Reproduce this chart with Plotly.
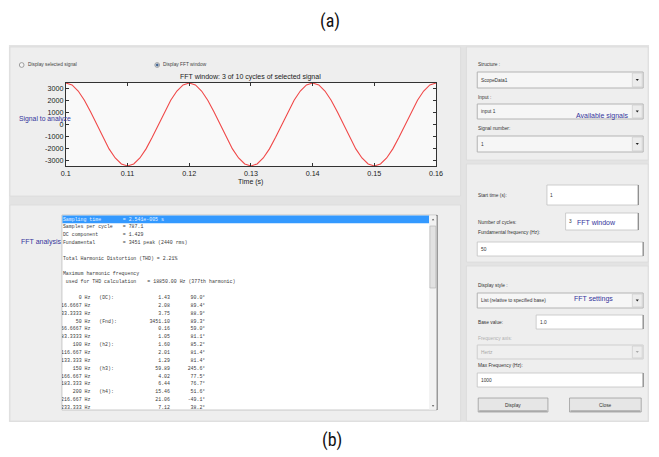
import plotly.graph_objects as go

W, H = 659, 457
SANS = "Liberation Sans, Arial, sans-serif"
MONO = "Liberation Mono, DejaVu Sans Mono, monospace"
BLUE = "#35359c"

# ---- signal in the FFT window (3 cycles, 0.1 s to 0.16 s, 1 ms steps) ----
time_s = [0.100, 0.101, 0.102, 0.103, 0.104, 0.105, 0.106, 0.107, 0.108, 0.109,
          0.110, 0.111, 0.112, 0.113, 0.114, 0.115, 0.116, 0.117, 0.118, 0.119,
          0.120, 0.121, 0.122, 0.123, 0.124, 0.125, 0.126, 0.127, 0.128, 0.129,
          0.130, 0.131, 0.132, 0.133, 0.134, 0.135, 0.136, 0.137, 0.138, 0.139,
          0.140, 0.141, 0.142, 0.143, 0.144, 0.145, 0.146, 0.147, 0.148, 0.149,
          0.150, 0.151, 0.152, 0.153, 0.154, 0.155, 0.156, 0.157, 0.158, 0.159,
          0.160]
signal = [3451, 3290, 2790, 2020, 1060, 0, -1070, -2030, -2790, -3280,
          -3451, -3280, -2790, -2030, -1070, 0, 1060, 2020, 2790, 3290,
          3451, 3290, 2790, 2020, 1060, 0, -1070, -2030, -2790, -3280,
          -3451, -3280, -2790, -2030, -1070, 0, 1060, 2020, 2790, 3290,
          3451, 3290, 2790, 2020, 1060, 0, -1070, -2030, -2790, -3280,
          -3451, -3280, -2790, -2030, -1070, 0, 1060, 2020, 2790, 3290,
          3451]
x_ticks = [0.10, 0.11, 0.12, 0.13, 0.14, 0.15, 0.16]
x_tick_text = ["0.1", "0.11", "0.12", "0.13", "0.14", "0.15", "0.16"]
y_ticks = [3000, 2000, 1000, 0, -1000, -2000, -3000]
y_tick_text = ["3000", "2000", "1000", "0", "-1000", "-2000", "-3000"]

# ---- FFT analysis listing ----
header_names = ["Sampling time", "Samples per cycle", "DC component", "Fundamental"]
header_values = ["= 2.541e-005 s", "= 787.1", "= 1.429", "= 3451 peak (2440 rms)"]
thd_line = "Total Harmonic Distortion (THD) = 2.21%"
maxh_title = "Maximum harmonic frequency"
maxh_name = "used for THD calculation"
maxh_value = "= 18850.00 Hz (377th harmonic)"

freq_hz = ["0", "16.6667", "33.3333", "50", "66.6667", "83.3333", "100", "116.667",
           "133.333", "150", "166.667", "183.333", "200", "216.667", "233.333"]
freq_tag = ["(DC):", "", "", "(Fnd):", "", "", "(h2):", "", "", "(h3):", "", "", "(h4):", "", ""]
magnitude = [1.43, 2.08, 3.75, 3451.10, 0.16, 1.05, 1.60, 2.01, 1.29, 59.89,
             4.02, 6.44, 15.46, 21.06, 7.12]
phase_deg = [90.0, 89.4, 88.9, 89.3, 59.0, 81.1, 85.2, 81.4, 81.4, 245.6,
             77.5, 76.7, 51.6, -49.1, 38.2]

# ---- GUI widget texts ----
radio_labels = ["Display selected signal", "Display FFT window"]
plot_title = "FFT window: 3 of 10 cycles of selected signal"


def X(x):
    return x / W


def Y(y):
    return 1 - y / H


shapes = []
annotations = []


def rect(x0, y0, x1, y1, fill, line=None, lw=1):
    shapes.append(dict(type="rect", xref="paper", yref="paper",
                       x0=X(x0), x1=X(x1), y0=Y(y1), y1=Y(y0),
                       fillcolor=fill, layer="below",
                       line=dict(color=line if line else fill, width=lw if line else 0)))


def seg(x0, y0, x1, y1, color, lw=1):
    shapes.append(dict(type="line", xref="paper", yref="paper",
                       x0=X(x0), x1=X(x1), y0=Y(y0), y1=Y(y1),
                       layer="below", line=dict(color=color, width=lw)))


def tri(cx, cy, up=False, color="#222", s=2.0):
    if up:
        pts = [(cx - s, cy + s * 0.6), (cx + s, cy + s * 0.6), (cx, cy - s * 0.7)]
    else:
        pts = [(cx - s, cy - s * 0.6), (cx + s, cy - s * 0.6), (cx, cy + s * 0.7)]
    path = "M " + " L ".join(f"{X(px):.5f},{Y(py):.5f}" for px, py in pts) + " Z"
    shapes.append(dict(type="path", xref="paper", yref="paper", path=path,
                       fillcolor=color, line=dict(color=color, width=0), layer="below"))


def circle(cx, cy, r, fill, line):
    shapes.append(dict(type="circle", xref="paper", yref="paper",
                       x0=X(cx - r), x1=X(cx + r), y0=Y(cy + r), y1=Y(cy - r),
                       fillcolor=fill, line=dict(color=line, width=0.8), layer="below"))


def text(x, y, s, size=5, color="#333", anchor="left", family=SANS, bold=False):
    annotations.append(dict(x=X(x), y=Y(y), xref="paper", yref="paper", text=s,
                            showarrow=False, xanchor=anchor, yanchor="middle",
                            borderpad=0,
                            font=dict(size=size, color=color, family=family,
                                      weight="bold" if bold else "normal")))


def dropdown(x0, y0, x1, y1, value, color="#333", enabled=True):
    rect(x0, y0, x1, y1, "#f6f6f6" if enabled else "#efefef",
         "#b4b4b4" if enabled else "#cfcfcf")
    rect(x1 - 11, y0 + 1, x1 - 1, y1 - 1, "#ececec", "#c8c8c8", 0.6)
    tri(x1 - 6, (y0 + y1) / 2, color="#222" if enabled else "#aaa", s=1.6)
    text(x0 + 2.5, (y0 + y1) / 2, value, 4.8, color)


def editbox(x0, y0, x1, y1, value):
    rect(x0, y0, x1, y1, "#ffffff", "#c2c2c2", 0.8)
    seg(x1, y0, x1, y1, "#7a7a7a", 1)
    text(x0 + 2.5, (y0 + y1) / 2, value, 4.8, "#333")


def button(x0, y0, x1, y1, label):
    rect(x0, y0, x1, y1, "#e6e6e6", "#9c9c9c", 0.8)
    seg(x0 + 1, y1 - 1, x1 - 1, y1 - 1, "#8a8a8a", 1)
    text((x0 + x1) / 2, (y0 + y1) / 2, label, 4.8, "#333", anchor="center")


# ---- window background and panels ----
rect(4, 45, 656, 422, "#e3e3e3")
rect(5, 47, 464, 196, "#eeeeee", "#dadada", 0.8)
rect(5, 205, 464, 421, "#eeeeee", "#dadada", 0.8)
rect(470, 47, 655, 160, "#eeeeee", "#dadada", 0.8)
rect(470, 164, 655, 262, "#eeeeee", "#dadada", 0.8)
rect(470, 266, 655, 421, "#eeeeee", "#dadada", 0.8)

# ---- signal panel ----
circle(17, 65, 2.4, "#f4f4f4", "#8c8c8c")
text(22, 65, radio_labels[0], 4.8, "#444")
circle(155, 65, 2.4, "#f4f4f4", "#8c8c8c")
circle(155, 65, 1.1, "#3b5f8f", "#3b5f8f")
text(160, 65, radio_labels[1], 4.8, "#444")
text(250.5, 77, plot_title, 7, "#222", anchor="center")
rect(62, 83, 439, 166, "#f9f9f9")
text(250.5, 182, "Time (s)", 7, "#222", anchor="center")
text(13, 118.5, "Signal to analyze", 6.8, BLUE)

# ---- FFT listing panel ----
rect(58, 215, 440, 410, "#ffffff", "#bdbdbd", 0.8)
seg(440, 215, 440, 410, "#555555", 1)
rect(58.5, 215.5, 432, 223.3, "#3399ff")
rect(432, 216, 439.5, 409.5, "#f2f2f2")
rect(432.8, 226, 438.8, 288, "#e2e2e2", "#b0b0b0", 0.6)
tri(436, 219.5, up=True, color="#444", s=1.2)
tri(436, 406, up=False, color="#444", s=1.2)
text(15, 242, "FFT analysis", 7, BLUE)

# ---- signal selection panel ----
text(481, 64, "Structure :", 4.8, "#333")
dropdown(481, 72, 650, 88, "ScopeData1")
text(481, 97, "Input :", 4.8, "#333")
dropdown(481, 104, 650, 119, "input 1")
text(581, 116.5, "Available signals", 7, BLUE)
text(481, 128, "Signal number:", 4.8, "#333")
dropdown(481, 136, 650, 152, "1")

# ---- window selection panel ----
text(481, 196, "Start time (s):", 4.8, "#333")
editbox(552, 185, 645, 205, "1")
text(481, 222, "Number of cycles:", 4.8, "#333")
editbox(571, 213, 645, 230, "3")
text(582, 222, "FFT window", 7, BLUE)
text(481, 233, "Fundamental frequency (Hz):", 4.8, "#333")
editbox(481, 242, 650, 256, "50")

# ---- FFT settings panel ----
text(481, 285, "Display style :", 4.8, "#333")
dropdown(481, 293, 650, 308, "List (relative to specified base)")
text(579, 299, "FFT settings", 7, BLUE)
text(481, 322, "Base value:", 4.8, "#333")
editbox(541, 315, 650, 329, "1.0")
text(481, 338, "Frequency axis:", 4.8, "#b0b0b0")
dropdown(481, 345, 650, 359, "Hertz", color="#a8a8a8", enabled=False)
text(481, 365, "Max Frequency (Hz):", 4.8, "#333")
editbox(481, 373, 650, 387, "1000")
button(482, 398, 553, 412, "Display")
button(575, 398, 648, 412, "Close")

# ---- figure captions ----
CAP = "Liberation Sans Narrow, Roboto Condensed, Roboto, sans-serif"
text(331, 21, "(a)", 18, "#111", anchor="center", family=CAP)
text(333, 440, "(b)", 18, "#111", anchor="center", family=CAP)

fig = go.Figure()

fig.add_trace(go.Scatter(x=time_s, y=signal, mode="lines",
                         line=dict(color="#f04848", width=1.1),
                         hoverinfo="skip", showlegend=False))

# listing rows, one line every 7.85 px starting at the highlighted row
row0, dy = 219.3, 7.85


def row_y(i):
    return row0 + i * dy


def listing(xs, ys, strings, pos, color="#3a3a3a"):
    fig.add_trace(go.Scatter(x=xs, y=ys, text=strings, mode="text",
                             textposition=pos, xaxis="x2", yaxis="y2",
                             marker=dict(size=1),
                             textfont=dict(family=MONO, size=4.9, color=color),
                             hoverinfo="skip", showlegend=False))


hdr_y = [row_y(i) for i in range(4)]
# first header row sits on the selection bar and is drawn in white
listing([59, 120], [hdr_y[0], hdr_y[0]], [header_names[0], header_values[0]],
        "middle right", color="#e6f2ff")
listing([59] * 3, hdr_y[1:], header_names[1:], "middle right")
listing([120] * 3, hdr_y[1:], header_values[1:], "middle right")
listing([59], [row_y(5)], [thd_line], "middle right")
listing([59], [row_y(7)], [maxh_title], "middle right")
listing([62], [row_y(8)], [maxh_name], "middle right")
listing([145], [row_y(8)], [maxh_value], "middle right")

tab_y = [row_y(10 + j) for j in range(len(freq_hz))]
listing([87] * len(freq_hz), tab_y, [f + " Hz" for f in freq_hz], "middle left")
listing([96] * len(freq_hz), tab_y, freq_tag, "middle right")
listing([168] * len(freq_hz), tab_y, [f"{m:.2f}" for m in magnitude], "middle left")
listing([204] * len(freq_hz), tab_y, [f"{p:.1f}\u00b0" for p in phase_deg], "middle left")

axis_font = dict(family=SANS, size=7.2, color="#222")
fig.update_layout(
    width=W, height=H,
    margin=dict(l=0, r=0, t=0, b=0),
    paper_bgcolor="#ffffff",
    plot_bgcolor="rgba(0,0,0,0)",
    showlegend=False,
    shapes=shapes,
    annotations=annotations,
    xaxis=dict(domain=[X(62), X(439)], range=[0.1, 0.16], tickvals=x_ticks,
               ticktext=x_tick_text, ticks="inside", ticklen=3, tickcolor="#333",
               showline=True, linecolor="#333", linewidth=1, mirror="ticks",
               showgrid=False, zeroline=False, tickfont=axis_font, fixedrange=True),
    yaxis=dict(domain=[Y(166), Y(83)], range=[-3455, 3455], tickvals=y_ticks,
               ticktext=y_tick_text, ticks="inside", ticklen=3, tickcolor="#333",
               showline=True, linecolor="#333", linewidth=1, mirror="ticks",
               showgrid=False, zeroline=False, tickfont=axis_font, fixedrange=True),
    xaxis2=dict(domain=[X(58), X(432)], range=[58, 432], visible=False,
                anchor="y2", fixedrange=True),
    yaxis2=dict(domain=[Y(410), Y(215.5)], range=[410, 215.5], visible=False,
                anchor="x2", fixedrange=True),
)

fig.write_html("out.html")
